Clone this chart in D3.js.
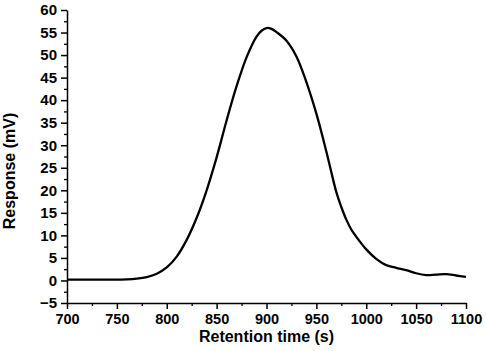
<!DOCTYPE html>
<html>
<head>
<meta charset="utf-8">
<script src="https://cdn.jsdelivr.net/npm/d3@7"></script>
<style>
  body { margin: 0; background: #fff; }
  text { font-family: "Liberation Sans", Arial, sans-serif; font-weight: bold; }
</style>
</head>
<body>
<div id="container"></div>
<script>
// retention time (s) and detector response (mV)
const times = [700, 720, 740, 760, 770, 780, 790, 800, 810, 820, 830, 840, 850, 860, 870, 880, 890, 895, 900, 905, 910, 920, 930, 940, 950, 960, 965, 970, 975, 980, 985, 990, 1000, 1010, 1020, 1030, 1040, 1050, 1060, 1070, 1080, 1090, 1100];
const response = [0.2, 0.2, 0.2, 0.25, 0.4, 0.75, 1.5, 2.9, 5.3, 9.0, 13.9, 20.0, 27.3, 35.5, 43.1, 49.5, 54.1, 55.4, 56.0, 55.8, 55.1, 53.2, 49.7, 44.0, 37.0, 28.6, 24.0, 19.6, 16.3, 13.5, 11.3, 9.7, 6.9, 4.8, 3.4, 2.8, 2.3, 1.6, 1.2, 1.3, 1.4, 1.1, 0.8];
const xTicks = [700, 750, 800, 850, 900, 950, 1000, 1050, 1100];
const yTicks = [-5, 0, 5, 10, 15, 20, 25, 30, 35, 40, 45, 50, 55, 60];

const width = 486, height = 351;
const marginTop = 10, marginRight = 20, marginBottom = 48, marginLeft = 67;

const x = d3.scaleLinear().domain([700, 1100]).range([marginLeft, width - marginRight]);
const y = d3.scaleLinear().domain([-5, 60]).range([height - marginBottom, marginTop]);

const svg = d3.create("svg")
    .attr("width", width)
    .attr("height", height)
    .attr("viewBox", [0, 0, width, height]);

// minor ticks first, then the labelled major ticks on top
svg.append("g")
    .attr("transform", `translate(0,${height - marginBottom})`)
    .call(d3.axisBottom(x).tickValues(d3.range(725, 1100, 50)).tickSize(3).tickFormat("").tickSizeOuter(0))
    .call(g => g.select(".domain").remove())
    .selectAll("line").attr("stroke-width", 1.3);

svg.append("g")
    .attr("transform", `translate(${marginLeft},0)`)
    .call(d3.axisLeft(y).tickValues(d3.range(-2.5, 60, 5)).tickSize(3).tickFormat("").tickSizeOuter(0))
    .call(g => g.select(".domain").remove())
    .selectAll("line").attr("stroke-width", 1.3);

const xAxis = svg.append("g")
    .attr("transform", `translate(0,${height - marginBottom})`)
    .call(d3.axisBottom(x).tickValues(xTicks).tickFormat(d3.format("d")).tickSize(6).tickPadding(5).tickSizeOuter(0));

const yAxis = svg.append("g")
    .attr("transform", `translate(${marginLeft},0)`)
    .call(d3.axisLeft(y).tickValues(yTicks).tickFormat(d3.format("d")).tickSize(6).tickPadding(4).tickSizeOuter(0));

[xAxis, yAxis].forEach(g => {
  g.select(".domain").attr("stroke-width", 1.5);
  g.selectAll(".tick line").attr("stroke-width", 1.5);
  g.selectAll(".tick text")
      .attr("font-family", "'Liberation Sans', Arial, sans-serif")
      .attr("font-weight", "bold")
      .attr("fill", "#000");
});
xAxis.selectAll(".tick text").attr("font-size", 14.5);
yAxis.selectAll(".tick text").attr("font-size", 15);

svg.append("path")
    .datum(times.map((t, i) => [t, response[i]]))
    .attr("fill", "none")
    .attr("stroke", "#000")
    .attr("stroke-width", 2.3)
    .attr("stroke-linejoin", "round")
    .attr("d", d3.line().x(d => x(d[0])).y(d => y(d[1])).curve(d3.curveCatmullRom));

svg.append("text")
    .attr("x", (marginLeft + width - marginRight) / 2)
    .attr("y", 342)
    .attr("text-anchor", "middle")
    .attr("font-size", 16)
    .text("Retention time (s)");

svg.append("text")
    .attr("transform", `translate(15,171) rotate(-90)`)
    .attr("text-anchor", "middle")
    .attr("font-size", 16)
    .text("Response (mV)");

document.getElementById("container").append(svg.node());
</script>
</body>
</html>
